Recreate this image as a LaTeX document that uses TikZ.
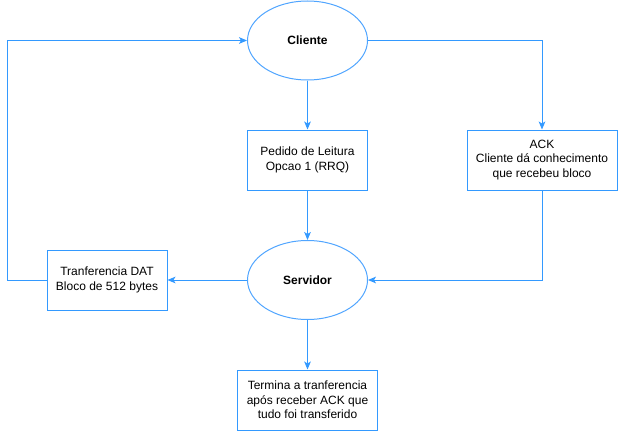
\documentclass[tikz,border=0pt]{standalone}
\usepackage{fontspec}
\setmainfont{Liberation Sans}
\usetikzlibrary{shapes.geometric,arrows.meta}
\definecolor{edge}{RGB}{51,153,255}
\definecolor{shapeline}{RGB}{80,165,255}
\begin{document}
\begin{tikzpicture}[x=0.75pt,y=-0.75pt,
  every node/.style={font=\fontsize{9}{11}\selectfont, align=center, inner sep=0pt},
  ell/.style={ellipse, draw=shapeline, line width=0.75pt, minimum width=90pt, minimum height=59.25pt, font=\fontsize{9}{11}\selectfont\bfseries},
  boxn/.style={rectangle, draw=edge, line width=0.75pt, minimum height=45pt},
  conn/.style={draw=edge, line width=0.75pt, -{Stealth[length=6pt,width=5pt,inset=1.5pt]}}]
\useasboundingbox (0,0) rectangle (618,432);
\node[ell] (cli) at (307.5,40.5) {Cliente};
\node[ell] (srv) at (307.5,280) {Servidor};
\node[boxn, minimum width=90pt] (ped) at (307.5,160) {Pedido de Leitura\\Opcao 1 (RRQ)};
\node[boxn, minimum width=112.5pt] (ack) at (542,160) {ACK\\Cliente dá conhecimento\\que recebeu bloco};
\node[boxn, minimum width=90pt] (tra) at (107,280) {Tranferencia DAT\\Bloco de 512 bytes};
\node[boxn, minimum width=105pt] (ter) at (307.5,400) {Termina a tranferencia\\após receber ACK que\\tudo foi transferido};
\coordinate (tl) at (7,280);
\coordinate (tu) at (7,40.5);
\coordinate (ar) at (542,40.5);
\coordinate (ad) at (542,280);
\draw[conn] (cli) -- (ped);
\draw[conn] (ped) -- (srv);
\draw[conn] (srv) -- (tra);
\draw[conn] (tra.west) -- (tl) -- (tu) -- (cli.west);
\draw[conn] (cli.east) -- (ar) -- (ack.north);
\draw[conn] (ack.south) -- (ad) -- (srv.east);
\draw[conn] (srv) -- (ter);
\end{tikzpicture}
\end{document}
